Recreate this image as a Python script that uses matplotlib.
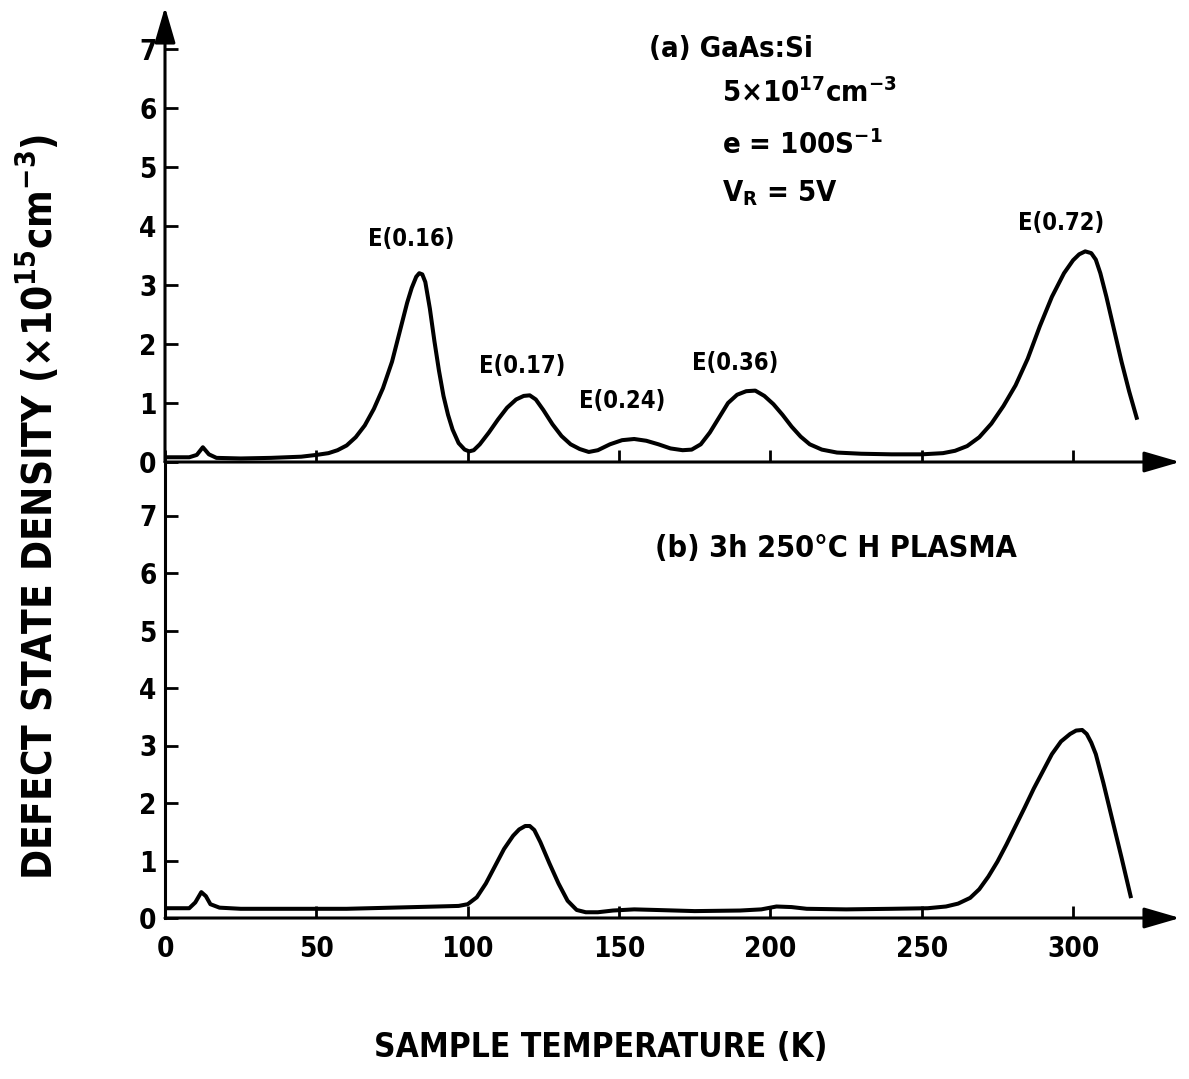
import matplotlib
matplotlib.use("Agg")
import matplotlib.pyplot as plt
from matplotlib import font_manager

# sample temperature (K) and defect state density (x1e15 cm^-3)
temp_a = [0, 8, 10.5, 12.5, 14.5, 17, 25, 35, 45, 50, 54, 57, 60, 63, 66, 69, 72,
          75, 78, 80, 81.5, 83, 84, 85, 86, 87.5, 89, 90.5, 92, 93.5, 95, 97, 99,
          100.5, 102, 104, 107, 110, 113, 116, 118.5, 120.5, 122.5, 125, 128, 131,
          134, 137, 140, 143, 147, 151, 155, 159, 163, 167, 171, 174, 177, 180,
          183, 186, 189, 192, 195, 198, 201, 204, 207, 210, 213, 217, 222, 230,
          240, 250, 257, 261, 265, 269, 273, 277, 281, 285, 289, 293, 297, 300,
          302, 304, 306, 307.5, 309, 311, 313.5, 316, 318.5, 321]
dens_a = [0.08, 0.08, 0.12, 0.25, 0.13, 0.07, 0.06, 0.07, 0.09, 0.12, 0.15, 0.2,
          0.28, 0.42, 0.62, 0.9, 1.25, 1.7, 2.3, 2.7, 2.95, 3.14, 3.2, 3.18, 3.05,
          2.6, 2.05, 1.55, 1.12, 0.8, 0.55, 0.32, 0.21, 0.18, 0.2, 0.3, 0.5, 0.72,
          0.92, 1.06, 1.12, 1.13, 1.06, 0.88, 0.64, 0.44, 0.3, 0.22, 0.17, 0.2,
          0.3, 0.37, 0.39, 0.36, 0.3, 0.23, 0.2, 0.21, 0.3, 0.5, 0.75, 1.0, 1.14,
          1.2, 1.21, 1.12, 0.98, 0.8, 0.6, 0.43, 0.3, 0.21, 0.16, 0.14, 0.13, 0.13,
          0.15, 0.19, 0.27, 0.42, 0.65, 0.95, 1.3, 1.75, 2.3, 2.8, 3.2, 3.42,
          3.52, 3.57, 3.54, 3.43, 3.2, 2.8, 2.25, 1.7, 1.2, 0.75]

temp_b = [0, 8, 10, 12, 13.5, 15, 18, 25, 40, 60, 75, 90, 97, 100, 103, 106, 109,
          112, 115, 117, 119, 120.5, 122, 124, 127, 130, 133, 136, 139, 143, 148,
          155, 162, 175, 190, 197, 202, 207, 212, 225, 240, 252, 258, 262, 266,
          269, 272, 275, 278, 281, 284, 287, 290, 293, 296, 299, 301, 303, 304.5,
          306, 307.5, 310, 313, 316, 319]
dens_b = [0.17, 0.17, 0.27, 0.45, 0.38, 0.24, 0.18, 0.16, 0.16, 0.16, 0.18, 0.2,
          0.21, 0.24, 0.36, 0.6, 0.9, 1.2, 1.43, 1.54, 1.6, 1.6, 1.53, 1.32, 0.95,
          0.6, 0.3, 0.14, 0.1, 0.1, 0.13, 0.15, 0.14, 0.12, 0.13, 0.15, 0.2, 0.19,
          0.16, 0.15, 0.16, 0.17, 0.2, 0.25, 0.35, 0.5, 0.72, 0.98, 1.28, 1.6,
          1.92, 2.25, 2.55, 2.85, 3.07, 3.2, 3.26, 3.27, 3.2, 3.05, 2.85, 2.35,
          1.7, 1.05, 0.38]

x_ticks = [0, 50, 100, 150, 200, 250, 300]
y_ticks = [0, 1, 2, 3, 4, 5, 6, 7]

peak_labels = ["E(0.16)", "E(0.17)", "E(0.24)", "E(0.36)", "E(0.72)"]
peak_label_x = [81.5, 118, 151, 188.5, 296]
peak_label_y = [3.58, 1.43, 0.83, 1.47, 3.85]

# a narrow sans looks closest to the old typeset labels
names = {(f.name, f.stretch) for f in font_manager.fontManager.ttflist}
if any(n == "Liberation Sans Narrow" for n, _ in names):
    FONT = "Liberation Sans Narrow"
    STRETCH = "normal"
elif ("DejaVu Sans", "condensed") in names:
    FONT = "DejaVu Sans"
    STRETCH = "condensed"
else:
    FONT = "Liberation Sans"
    STRETCH = "normal"

plt.rcParams["font.family"] = [FONT, "DejaVu Sans"]
plt.rcParams["font.stretch"] = STRETCH
plt.rcParams["font.weight"] = "bold"
plt.rcParams["mathtext.default"] = "regular"

W, H = 1189, 1079
fig = plt.figure(figsize=(W / 100, H / 100), dpi=100)

left = 165 / W
width = (1180 - 165) / W
ax_b = fig.add_axes([left, 1 - 918 / H, width, (918 - 462) / H])
ax_a = fig.add_axes([left, 1 - 462 / H, width, (462 - 7) / H])

xmax = (1180 - 165) / 3.027
arrow = dict(arrowstyle="-|>,head_length=1.1,head_width=0.32", color="k",
             lw=2.2, mutation_scale=20, shrinkA=0, shrinkB=0)

for ax, ymax in ((ax_a, 455 / 59.0), (ax_b, 456 / 57.5)):
    ax.patch.set_visible(False)
    ax.set_xlim(0, xmax)
    ax.set_ylim(0, ymax)
    for s in ("top", "right", "bottom"):
        ax.spines[s].set_visible(False)
    ax.spines["left"].set_linewidth(2.2)
    ax.set_xticks(x_ticks)
    ax.set_yticks(y_ticks)
    ax.tick_params(direction="in", length=9, width=2, labelsize=20, pad=6)
    ax.annotate("", xy=(1, 0), xytext=(0, 0), xycoords="axes fraction",
                textcoords="axes fraction", arrowprops=arrow)

ax_a.spines["left"].set_visible(False)
ax_a.annotate("", xy=(0, 1), xytext=(0, 0), xycoords="axes fraction",
              textcoords="axes fraction", arrowprops=arrow)
ax_a.tick_params(axis="x", labelbottom=False)
ax_b.tick_params(axis="x", pad=12)

ax_a.plot(temp_a, dens_a, color="k", lw=2.9, solid_joinstyle="round")
ax_b.plot(temp_b, dens_b, color="k", lw=2.9, solid_joinstyle="round")

for lab, x, y in zip(peak_labels, peak_label_x, peak_label_y):
    ax_a.text(x, y, lab, fontsize=17, ha="center", va="bottom")

ax_a.text(160, 7.0, "(a) GaAs:Si", fontsize=21, va="center")
ax_a.text(184, 6.25, "5×10$^{17}$cm$^{-3}$", fontsize=21, va="center")
ax_a.text(184, 5.38, "e = 100S$^{-1}$", fontsize=21, va="center")
ax_a.text(184, 4.55, "V$_R$ = 5V", fontsize=21, va="center")
ax_b.text(162, 6.42, "(b) 3h 250°C H PLASMA", fontsize=22, va="center")

fig.text(0.505, 0.029, "SAMPLE TEMPERATURE (K)", fontsize=24,
         ha="center", va="center")
fig.text(0.032, 0.53, "DEFECT STATE DENSITY (×10$^{15}$cm$^{-3}$)",
         fontsize=29, rotation=90, ha="center", va="center")

fig.savefig("out.png", dpi=100)
